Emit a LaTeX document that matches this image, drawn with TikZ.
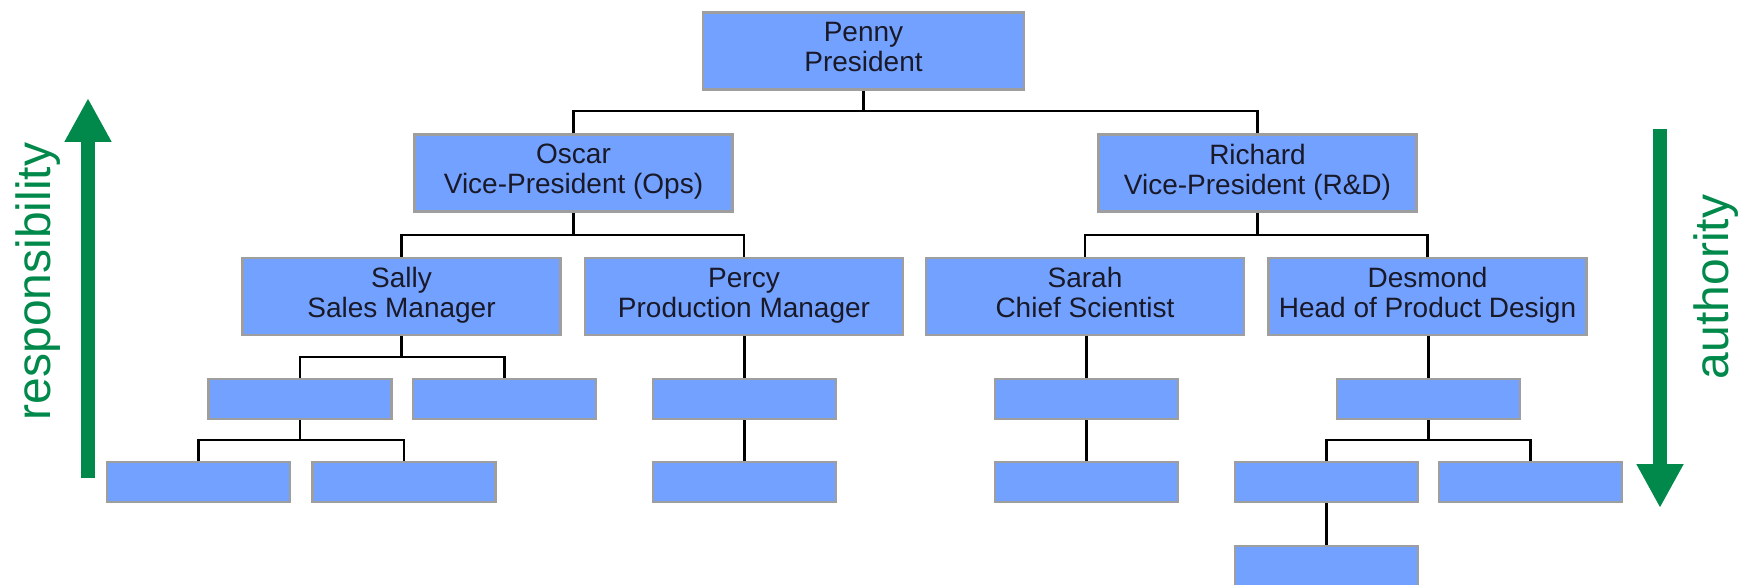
\documentclass[tikz,border=0pt]{standalone}
\usepackage{fontspec}
\setmainfont{Liberation Sans}
\usetikzlibrary{arrows.meta}
\definecolor{boxfill}{RGB}{115,161,255}
\definecolor{boxline}{RGB}{158,158,158}
\definecolor{arrowgreen}{RGB}{0,137,74}
\definecolor{labeltext}{RGB}{25,25,40}
% fixed top and bottom of every two-line label, so all sit at the same level
\newcommand{\topstrut}{\rule{0pt}{30pt}}
\newcommand{\bottomstrut}{\rule[-8pt]{0pt}{8pt}}
\tikzset{
  role/.style={draw=boxline, fill=boxfill, line width=2.4pt, align=center,
    minimum width=318pt, minimum height=77pt, inner sep=0pt,
    text=labeltext, font=\fontsize{28}{30}\selectfont,
    execute at begin node=\topstrut, execute at end node=\bottomstrut},
  slot/.style={draw=boxline, fill=boxfill, line width=2.4pt,
    minimum width=183pt, minimum height=40pt, inner sep=0pt},
  link/.style={draw=black, line width=2.4pt},
  bigarrow/.style={arrowgreen, line width=14.5pt,
    -{Triangle[length=44pt,width=44pt]}},
  sidelabel/.style={text=arrowgreen, rotate=90, anchor=base,
    font=\fontsize{48}{52}\selectfont}
}
\begin{document}
\begin{tikzpicture}[x=1pt,y=-1pt]
\useasboundingbox (0,0) rectangle (1745,585);

% named people
\node[role, minimum width=321pt] (penny) at (863.5,51) {Penny\\President};
\node[role] (oscar)   at (573.5,173) {Oscar\\Vice-President (Ops)};
\node[role] (richard) at (1257.5,173) {Richard\\Vice-President (R\&D)};
\node[role] (sally)   at (401.5,296.5) {Sally\\Sales Manager};
\node[role] (percy)   at (744,296.5) {Percy\\Production Manager};
\node[role] (sarah)   at (1085,296.5) {Sarah\\Chief Scientist};
\node[role] (desmond) at (1427.5,296.5) {Desmond\\Head of Product Design};

% empty positions
\node[slot] (s1)  at (300,399) {};
\node[slot] (s2)  at (504.5,399) {};
\node[slot] (p1)  at (744.5,399) {};
\node[slot] (r1)  at (1086.5,399) {};
\node[slot] (d1)  at (1428.5,399) {};
\node[slot] (s1a) at (198.5,482) {};
\node[slot] (s1b) at (404,482) {};
\node[slot] (p2)  at (744.5,482) {};
\node[slot] (r2)  at (1086.5,482) {};
\node[slot] (d1a) at (1326.5,482) {};
\node[slot] (d1b) at (1530.5,482) {};
\node[slot] (d1c) at (1326.5,566) {};

% heights of the horizontal bars
\coordinate (bar0) at (0,111);
\coordinate (bar1) at (0,235);
\coordinate (bar2) at (0,357);
\coordinate (bar3) at (0,440);

% connectors
\draw[link] (oscar.north) |- (penny.south |- bar0) -- (penny.south);
\draw[link] (richard.north) |- (penny.south |- bar0);
\draw[link] (sally.north) |- (oscar.south |- bar1) -- (oscar.south);
\draw[link] (percy.north) |- (oscar.south |- bar1);
\draw[link] (sarah.north) |- (richard.south |- bar1) -- (richard.south);
\draw[link] (desmond.north) |- (richard.south |- bar1);
\draw[link] (s1.north) |- (sally.south |- bar2) -- (sally.south);
\draw[link] (s2.north) |- (sally.south |- bar2);
\draw[link] (s1a.north) |- (s1.south |- bar3) -- (s1.south);
\draw[link] (s1b.north) |- (s1.south |- bar3);
\draw[link] (percy.south -| p1.north) -- (p1.north);
\draw[link] (p1.south) -- (p2.north);
\draw[link] (sarah.south -| r1.north) -- (r1.north);
\draw[link] (r1.south) -- (r2.north);
\draw[link] (desmond.south -| d1.north) -- (d1.north);
\draw[link] (d1a.north) |- (d1.south |- bar3) -- (d1.south);
\draw[link] (d1b.north) |- (d1.south |- bar3);
\draw[link] (d1a.south) -- (d1c.north);

% side arrows
\coordinate (respfoot) at (88,478);
\coordinate (resptip)  at (88,98);
\coordinate (authtop)  at (1660,129);
\coordinate (authtip)  at (1660,508);
\draw[bigarrow] (respfoot) -- (resptip);
\draw[bigarrow] (authtop) -- (authtip);
\node[sidelabel] (resp) at (50,281.5) {responsibility};
\node[sidelabel] (auth) at (1728,287) {authority};
\end{tikzpicture}
\end{document}
